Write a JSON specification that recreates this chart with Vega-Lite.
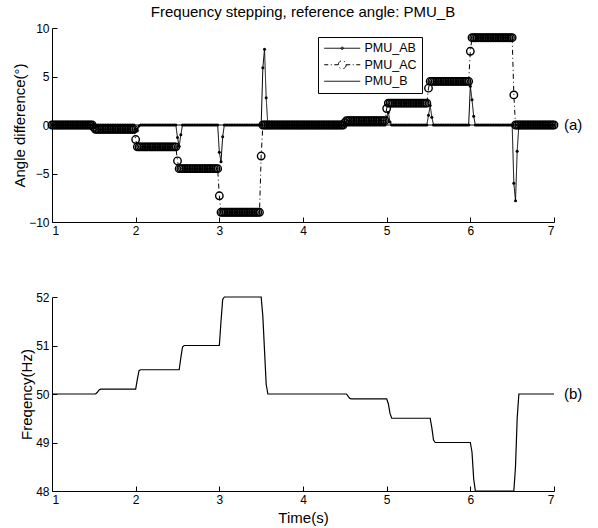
{
"$schema":"https://vega.github.io/schema/vega-lite/v6.json",
"background":"white",
"padding":{"left":12,"top":5,"right":5,"bottom":5},
"config":{
 "font":"Liberation Sans",
 "view":{"stroke":null},
 "axis":{"domainColor":"black","domainWidth":1,"tickColor":"black","tickWidth":1,"tickSize":-5,"labelColor":"black","labelFontSize":12,"titleColor":"black","titleFontSize":15,"titleFontWeight":"normal","grid":false,"labelFont":"Liberation Sans","titleFont":"Liberation Sans"},
 "axisX":{"labelPadding":8,"titlePadding":5},
 "axisY":{"labelPadding":8,"titlePadding":1},
 "title":{"fontSize":15,"fontWeight":"normal","color":"black","font":"Liberation Sans"},
 "concat":{"spacing":75}
},
"datasets":{"d":[
{"t":1,"ab":0,"ac":0,"f":50},{"t":1.02,"ab":0,"ac":0,"f":50},{"t":1.04,"ab":0,"ac":0,"f":50},{"t":1.06,"ab":0,"ac":0,"f":50},{"t":1.08,"ab":0,"ac":0,"f":50},
{"t":1.1,"ab":0,"ac":0,"f":50},{"t":1.12,"ab":0,"ac":0,"f":50},{"t":1.14,"ab":0,"ac":0,"f":50},{"t":1.16,"ab":0,"ac":0,"f":50},{"t":1.18,"ab":0,"ac":0,"f":50},
{"t":1.2,"ab":0,"ac":0,"f":50},{"t":1.22,"ab":0,"ac":0,"f":50},{"t":1.24,"ab":0,"ac":0,"f":50},{"t":1.26,"ab":0,"ac":0,"f":50},{"t":1.28,"ab":0,"ac":0,"f":50},
{"t":1.3,"ab":0,"ac":0,"f":50},{"t":1.32,"ab":0,"ac":0,"f":50},{"t":1.34,"ab":0,"ac":0,"f":50},{"t":1.36,"ab":0,"ac":0,"f":50},{"t":1.38,"ab":0,"ac":0,"f":50},
{"t":1.4,"ab":0,"ac":0,"f":50},{"t":1.42,"ab":0,"ac":0,"f":50},{"t":1.44,"ab":0,"ac":0,"f":50},{"t":1.46,"ab":0,"ac":0,"f":50},{"t":1.48,"ab":0,"ac":0,"f":50},
{"t":1.5,"ab":0,"ac":-0.25,"f":50},{"t":1.52,"ab":-0.2,"ac":-0.45,"f":50},{"t":1.54,"ab":0,"ac":-0.45,"f":50.03},{"t":1.56,"ab":0,"ac":-0.45,"f":50.08},
{"t":1.58,"ab":0,"ac":-0.45,"f":50.1},{"t":1.6,"ab":0,"ac":-0.45,"f":50.1},{"t":1.62,"ab":0,"ac":-0.45,"f":50.1},{"t":1.64,"ab":0,"ac":-0.45,"f":50.1},{"t":1.66,"ab":0,"ac":-0.45,"f":50.1},
{"t":1.68,"ab":0,"ac":-0.45,"f":50.1},{"t":1.7,"ab":0,"ac":-0.45,"f":50.1},{"t":1.72,"ab":0,"ac":-0.45,"f":50.1},{"t":1.74,"ab":0,"ac":-0.45,"f":50.1},{"t":1.76,"ab":0,"ac":-0.45,"f":50.1},
{"t":1.78,"ab":0,"ac":-0.45,"f":50.1},{"t":1.8,"ab":0,"ac":-0.45,"f":50.1},{"t":1.82,"ab":0,"ac":-0.45,"f":50.1},{"t":1.84,"ab":0,"ac":-0.45,"f":50.1},{"t":1.86,"ab":0,"ac":-0.45,"f":50.1},
{"t":1.88,"ab":0,"ac":-0.45,"f":50.1},{"t":1.9,"ab":0,"ac":-0.45,"f":50.1},{"t":1.92,"ab":0,"ac":-0.45,"f":50.1},{"t":1.94,"ab":0,"ac":-0.45,"f":50.1},{"t":1.96,"ab":0,"ac":-0.45,"f":50.1},
{"t":1.98,"ab":0,"ac":-0.45,"f":50.1},
{"t":2,"ab":-0.4,"ac":-1.5,"f":50.1},{"t":2.02,"ab":-0.6,"ac":-2.25,"f":50.3},{"t":2.04,"ab":-0.1,"ac":-2.25,"f":50.48},
{"t":2.06,"ab":0,"ac":-2.25,"f":50.5},{"t":2.08,"ab":0,"ac":-2.25,"f":50.5},{"t":2.1,"ab":0,"ac":-2.25,"f":50.5},{"t":2.12,"ab":0,"ac":-2.25,"f":50.5},{"t":2.14,"ab":0,"ac":-2.25,"f":50.5},
{"t":2.16,"ab":0,"ac":-2.25,"f":50.5},{"t":2.18,"ab":0,"ac":-2.25,"f":50.5},{"t":2.2,"ab":0,"ac":-2.25,"f":50.5},{"t":2.22,"ab":0,"ac":-2.25,"f":50.5},{"t":2.24,"ab":0,"ac":-2.25,"f":50.5},
{"t":2.26,"ab":0,"ac":-2.25,"f":50.5},{"t":2.28,"ab":0,"ac":-2.25,"f":50.5},{"t":2.3,"ab":0,"ac":-2.25,"f":50.5},{"t":2.32,"ab":0,"ac":-2.25,"f":50.5},{"t":2.34,"ab":0,"ac":-2.25,"f":50.5},
{"t":2.36,"ab":0,"ac":-2.25,"f":50.5},{"t":2.38,"ab":0,"ac":-2.25,"f":50.5},{"t":2.4,"ab":0,"ac":-2.25,"f":50.5},{"t":2.42,"ab":0,"ac":-2.25,"f":50.5},{"t":2.44,"ab":0,"ac":-2.25,"f":50.5},
{"t":2.46,"ab":0,"ac":-2.25,"f":50.5},{"t":2.48,"ab":0,"ac":-2.25,"f":50.5},
{"t":2.5,"ab":-1.3,"ac":-3.7,"f":50.5},{"t":2.52,"ab":-2.2,"ac":-4.5,"f":50.5},{"t":2.54,"ab":-1,"ac":-4.5,"f":50.75},{"t":2.56,"ab":0,"ac":-4.5,"f":50.97},
{"t":2.58,"ab":0,"ac":-4.5,"f":51},{"t":2.6,"ab":0,"ac":-4.5,"f":51},{"t":2.62,"ab":0,"ac":-4.5,"f":51},{"t":2.64,"ab":0,"ac":-4.5,"f":51},{"t":2.66,"ab":0,"ac":-4.5,"f":51},
{"t":2.68,"ab":0,"ac":-4.5,"f":51},{"t":2.7,"ab":0,"ac":-4.5,"f":51},{"t":2.72,"ab":0,"ac":-4.5,"f":51},{"t":2.74,"ab":0,"ac":-4.5,"f":51},{"t":2.76,"ab":0,"ac":-4.5,"f":51},
{"t":2.78,"ab":0,"ac":-4.5,"f":51},{"t":2.8,"ab":0,"ac":-4.5,"f":51},{"t":2.82,"ab":0,"ac":-4.5,"f":51},{"t":2.84,"ab":0,"ac":-4.5,"f":51},{"t":2.86,"ab":0,"ac":-4.5,"f":51},
{"t":2.88,"ab":0,"ac":-4.5,"f":51},{"t":2.9,"ab":0,"ac":-4.5,"f":51},{"t":2.92,"ab":0,"ac":-4.5,"f":51},{"t":2.94,"ab":0,"ac":-4.5,"f":51},{"t":2.96,"ab":0,"ac":-4.5,"f":51},
{"t":2.98,"ab":0,"ac":-4.5,"f":51},
{"t":3,"ab":-2.8,"ac":-7.3,"f":51},{"t":3.02,"ab":-3.8,"ac":-9,"f":51.5},{"t":3.04,"ab":-1.2,"ac":-9,"f":51.95},
{"t":3.06,"ab":0,"ac":-9,"f":52},{"t":3.08,"ab":0,"ac":-9,"f":52},{"t":3.1,"ab":0,"ac":-9,"f":52},{"t":3.12,"ab":0,"ac":-9,"f":52},{"t":3.14,"ab":0,"ac":-9,"f":52},
{"t":3.16,"ab":0,"ac":-9,"f":52},{"t":3.18,"ab":0,"ac":-9,"f":52},{"t":3.2,"ab":0,"ac":-9,"f":52},{"t":3.22,"ab":0,"ac":-9,"f":52},{"t":3.24,"ab":0,"ac":-9,"f":52},
{"t":3.26,"ab":0,"ac":-9,"f":52},{"t":3.28,"ab":0,"ac":-9,"f":52},{"t":3.3,"ab":0,"ac":-9,"f":52},{"t":3.32,"ab":0,"ac":-9,"f":52},{"t":3.34,"ab":0,"ac":-9,"f":52},
{"t":3.36,"ab":0,"ac":-9,"f":52},{"t":3.38,"ab":0,"ac":-9,"f":52},{"t":3.4,"ab":0,"ac":-9,"f":52},{"t":3.42,"ab":0,"ac":-9,"f":52},{"t":3.44,"ab":0,"ac":-9,"f":52},
{"t":3.46,"ab":0,"ac":-9,"f":52},{"t":3.48,"ab":0,"ac":-9,"f":52},
{"t":3.5,"ab":0,"ac":-3.2,"f":52},{"t":3.52,"ab":5.9,"ac":0,"f":51.6},{"t":3.54,"ab":7.8,"ac":0,"f":50.9},{"t":3.56,"ab":2.8,"ac":0,"f":50.2},
{"t":3.58,"ab":0,"ac":0,"f":50},{"t":3.6,"ab":0,"ac":0,"f":50},{"t":3.62,"ab":0,"ac":0,"f":50},{"t":3.64,"ab":0,"ac":0,"f":50},{"t":3.66,"ab":0,"ac":0,"f":50},
{"t":3.68,"ab":0,"ac":0,"f":50},{"t":3.7,"ab":0,"ac":0,"f":50},{"t":3.72,"ab":0,"ac":0,"f":50},{"t":3.74,"ab":0,"ac":0,"f":50},{"t":3.76,"ab":0,"ac":0,"f":50},
{"t":3.78,"ab":0,"ac":0,"f":50},{"t":3.8,"ab":0,"ac":0,"f":50},{"t":3.82,"ab":0,"ac":0,"f":50},{"t":3.84,"ab":0,"ac":0,"f":50},{"t":3.86,"ab":0,"ac":0,"f":50},
{"t":3.88,"ab":0,"ac":0,"f":50},{"t":3.9,"ab":0,"ac":0,"f":50},{"t":3.92,"ab":0,"ac":0,"f":50},{"t":3.94,"ab":0,"ac":0,"f":50},{"t":3.96,"ab":0,"ac":0,"f":50},
{"t":3.98,"ab":0,"ac":0,"f":50},{"t":4,"ab":0,"ac":0,"f":50},{"t":4.02,"ab":0,"ac":0,"f":50},{"t":4.04,"ab":0,"ac":0,"f":50},{"t":4.06,"ab":0,"ac":0,"f":50},
{"t":4.08,"ab":0,"ac":0,"f":50},{"t":4.1,"ab":0,"ac":0,"f":50},{"t":4.12,"ab":0,"ac":0,"f":50},{"t":4.14,"ab":0,"ac":0,"f":50},{"t":4.16,"ab":0,"ac":0,"f":50},
{"t":4.18,"ab":0,"ac":0,"f":50},{"t":4.2,"ab":0,"ac":0,"f":50},{"t":4.22,"ab":0,"ac":0,"f":50},{"t":4.24,"ab":0,"ac":0,"f":50},{"t":4.26,"ab":0,"ac":0,"f":50},
{"t":4.28,"ab":0,"ac":0,"f":50},{"t":4.3,"ab":0,"ac":0,"f":50},{"t":4.32,"ab":0,"ac":0,"f":50},{"t":4.34,"ab":0,"ac":0,"f":50},{"t":4.36,"ab":0,"ac":0,"f":50},
{"t":4.38,"ab":0,"ac":0,"f":50},{"t":4.4,"ab":0,"ac":0,"f":50},{"t":4.42,"ab":0,"ac":0,"f":50},{"t":4.44,"ab":0,"ac":0,"f":50},{"t":4.46,"ab":0,"ac":0,"f":50},
{"t":4.48,"ab":0,"ac":0,"f":50},
{"t":4.5,"ab":0.2,"ac":0.25,"f":50},{"t":4.52,"ab":0.1,"ac":0.45,"f":50},{"t":4.54,"ab":0,"ac":0.45,"f":49.95},{"t":4.56,"ab":0,"ac":0.45,"f":49.91},
{"t":4.58,"ab":0,"ac":0.45,"f":49.9},{"t":4.6,"ab":0,"ac":0.45,"f":49.9},{"t":4.62,"ab":0,"ac":0.45,"f":49.9},{"t":4.64,"ab":0,"ac":0.45,"f":49.9},{"t":4.66,"ab":0,"ac":0.45,"f":49.9},
{"t":4.68,"ab":0,"ac":0.45,"f":49.9},{"t":4.7,"ab":0,"ac":0.45,"f":49.9},{"t":4.72,"ab":0,"ac":0.45,"f":49.9},{"t":4.74,"ab":0,"ac":0.45,"f":49.9},{"t":4.76,"ab":0,"ac":0.45,"f":49.9},
{"t":4.78,"ab":0,"ac":0.45,"f":49.9},{"t":4.8,"ab":0,"ac":0.45,"f":49.9},{"t":4.82,"ab":0,"ac":0.45,"f":49.9},{"t":4.84,"ab":0,"ac":0.45,"f":49.9},{"t":4.86,"ab":0,"ac":0.45,"f":49.9},
{"t":4.88,"ab":0,"ac":0.45,"f":49.9},{"t":4.9,"ab":0,"ac":0.45,"f":49.9},{"t":4.92,"ab":0,"ac":0.45,"f":49.9},{"t":4.94,"ab":0,"ac":0.45,"f":49.9},{"t":4.96,"ab":0,"ac":0.45,"f":49.9},
{"t":4.98,"ab":0,"ac":0.45,"f":49.9},
{"t":5,"ab":0.8,"ac":1.7,"f":49.9},{"t":5.02,"ab":1.3,"ac":2.25,"f":49.8},{"t":5.04,"ab":0.3,"ac":2.25,"f":49.6},
{"t":5.06,"ab":0,"ac":2.25,"f":49.5},{"t":5.08,"ab":0,"ac":2.25,"f":49.5},{"t":5.1,"ab":0,"ac":2.25,"f":49.5},{"t":5.12,"ab":0,"ac":2.25,"f":49.5},{"t":5.14,"ab":0,"ac":2.25,"f":49.5},
{"t":5.16,"ab":0,"ac":2.25,"f":49.5},{"t":5.18,"ab":0,"ac":2.25,"f":49.5},{"t":5.2,"ab":0,"ac":2.25,"f":49.5},{"t":5.22,"ab":0,"ac":2.25,"f":49.5},{"t":5.24,"ab":0,"ac":2.25,"f":49.5},
{"t":5.26,"ab":0,"ac":2.25,"f":49.5},{"t":5.28,"ab":0,"ac":2.25,"f":49.5},{"t":5.3,"ab":0,"ac":2.25,"f":49.5},{"t":5.32,"ab":0,"ac":2.25,"f":49.5},{"t":5.34,"ab":0,"ac":2.25,"f":49.5},
{"t":5.36,"ab":0,"ac":2.25,"f":49.5},{"t":5.38,"ab":0,"ac":2.25,"f":49.5},{"t":5.4,"ab":0,"ac":2.25,"f":49.5},{"t":5.42,"ab":0,"ac":2.25,"f":49.5},{"t":5.44,"ab":0,"ac":2.25,"f":49.5},
{"t":5.46,"ab":0,"ac":2.25,"f":49.5},{"t":5.48,"ab":0,"ac":2.25,"f":49.5},
{"t":5.5,"ab":1,"ac":3.8,"f":49.5},{"t":5.52,"ab":2,"ac":4.5,"f":49.5},{"t":5.54,"ab":0.8,"ac":4.5,"f":49.3},{"t":5.56,"ab":0,"ac":4.5,"f":49.05},
{"t":5.58,"ab":0,"ac":4.5,"f":49},{"t":5.6,"ab":0,"ac":4.5,"f":49},{"t":5.62,"ab":0,"ac":4.5,"f":49},{"t":5.64,"ab":0,"ac":4.5,"f":49},{"t":5.66,"ab":0,"ac":4.5,"f":49},
{"t":5.68,"ab":0,"ac":4.5,"f":49},{"t":5.7,"ab":0,"ac":4.5,"f":49},{"t":5.72,"ab":0,"ac":4.5,"f":49},{"t":5.74,"ab":0,"ac":4.5,"f":49},{"t":5.76,"ab":0,"ac":4.5,"f":49},
{"t":5.78,"ab":0,"ac":4.5,"f":49},{"t":5.8,"ab":0,"ac":4.5,"f":49},{"t":5.82,"ab":0,"ac":4.5,"f":49},{"t":5.84,"ab":0,"ac":4.5,"f":49},{"t":5.86,"ab":0,"ac":4.5,"f":49},
{"t":5.88,"ab":0,"ac":4.5,"f":49},{"t":5.9,"ab":0,"ac":4.5,"f":49},{"t":5.92,"ab":0,"ac":4.5,"f":49},{"t":5.94,"ab":0,"ac":4.5,"f":49},{"t":5.96,"ab":0,"ac":4.5,"f":49},
{"t":5.98,"ab":0,"ac":4.5,"f":49},
{"t":6,"ab":4,"ac":7.6,"f":49},{"t":6.02,"ab":2.6,"ac":9,"f":48.8},{"t":6.04,"ab":0.9,"ac":9,"f":48.25},
{"t":6.06,"ab":0,"ac":9,"f":48},{"t":6.08,"ab":0,"ac":9,"f":48},{"t":6.1,"ab":0,"ac":9,"f":48},{"t":6.12,"ab":0,"ac":9,"f":48},{"t":6.14,"ab":0,"ac":9,"f":48},
{"t":6.16,"ab":0,"ac":9,"f":48},{"t":6.18,"ab":0,"ac":9,"f":48},{"t":6.2,"ab":0,"ac":9,"f":48},{"t":6.22,"ab":0,"ac":9,"f":48},{"t":6.24,"ab":0,"ac":9,"f":48},
{"t":6.26,"ab":0,"ac":9,"f":48},{"t":6.28,"ab":0,"ac":9,"f":48},{"t":6.3,"ab":0,"ac":9,"f":48},{"t":6.32,"ab":0,"ac":9,"f":48},{"t":6.34,"ab":0,"ac":9,"f":48},
{"t":6.36,"ab":0,"ac":9,"f":48},{"t":6.38,"ab":0,"ac":9,"f":48},{"t":6.4,"ab":0,"ac":9,"f":48},{"t":6.42,"ab":0,"ac":9,"f":48},{"t":6.44,"ab":0,"ac":9,"f":48},
{"t":6.46,"ab":0,"ac":9,"f":48},{"t":6.48,"ab":0,"ac":9,"f":48},{"t":6.5,"ab":0,"ac":9,"f":48},
{"t":6.52,"ab":-6,"ac":3.1,"f":48},{"t":6.54,"ab":-7.8,"ac":0,"f":48.5},{"t":6.56,"ab":-2.7,"ac":0,"f":49.5},
{"t":6.58,"ab":0,"ac":0,"f":50},{"t":6.6,"ab":0,"ac":0,"f":50},{"t":6.62,"ab":0,"ac":0,"f":50},{"t":6.64,"ab":0,"ac":0,"f":50},{"t":6.66,"ab":0,"ac":0,"f":50},
{"t":6.68,"ab":0,"ac":0,"f":50},{"t":6.7,"ab":0,"ac":0,"f":50},{"t":6.72,"ab":0,"ac":0,"f":50},{"t":6.74,"ab":0,"ac":0,"f":50},{"t":6.76,"ab":0,"ac":0,"f":50},
{"t":6.78,"ab":0,"ac":0,"f":50},{"t":6.8,"ab":0,"ac":0,"f":50},{"t":6.82,"ab":0,"ac":0,"f":50},{"t":6.84,"ab":0,"ac":0,"f":50},{"t":6.86,"ab":0,"ac":0,"f":50},
{"t":6.88,"ab":0,"ac":0,"f":50},{"t":6.9,"ab":0,"ac":0,"f":50},{"t":6.92,"ab":0,"ac":0,"f":50},{"t":6.94,"ab":0,"ac":0,"f":50},{"t":6.96,"ab":0,"ac":0,"f":50},
{"t":6.98,"ab":0,"ac":0,"f":50},{"t":7,"ab":0,"ac":0,"f":50}
]},
"bounds":"flush",
"vconcat":[
{
 "width":502,"height":194,
 "title":{"text":"Frequency stepping, reference angle: PMU_B","frame":"group","anchor":"middle","offset":2},
 "data":{"name":"d"},
 "encoding":{"x":{"field":"t","type":"quantitative","scale":{"domain":[1,7],"nice":false},"axis":{"title":null,"values":[1,2,3,4,5,6,7]}}},
 "layer":[
  {"transform":[{"fold":["ab","ac"],"as":["s","v"]}],
   "mark":{"type":"line","strokeWidth":1},
   "encoding":{
    "y":{"field":"v","type":"quantitative","title":"Angle difference(°)","scale":{"domain":[-10,10],"nice":false},"axis":{"values":[-10,-5,0,5,10]}},
    "color":{"field":"s","type":"nominal","scale":{"domain":["ab","ac","b"],"range":["black","black","black"]},
     "legend":{"orient":"none","legendX":266,"legendY":9,"title":null,
      "labelExpr":"datum.value=='ab'?'PMU_AB':datum.value=='ac'?'PMU_AC':'PMU_B'",
      "labelFontSize":12.5,"labelColor":"black","strokeColor":"black","fillColor":"white","padding":5,
      "symbolSize":64,"symbolStrokeWidth":1,"symbolOffset":0,"labelOffset":29,"rowPadding":3.5,
      "encode":{"symbols":{"update":{
        "shape":{"signal":"datum.value=='ab'?'M-1.25,0H7.75M3.55,0A0.3,0.3 0 1,1 2.95,0A0.3,0.3 0 1,1 3.55,0Z':datum.value=='ac'?'M-1.25,0H-0.25M0.375,0H0.625M1.25,0H2.25M4.25,0H5.25M5.875,0H6.125M6.75,0H7.75M4.25,0A1,1 0 1,1 2.25,0A1,1 0 1,1 4.25,0Z':'M-1.25,0H7.75'"},
        "fill":{"value":"transparent"},"stroke":{"value":"black"},"strokeWidth":{"value":1}}}}}},
    "strokeDash":{"field":"s","type":"nominal","scale":{"domain":["ab","ac","b"],"range":[[1,0],[5,3,1,3],[1,0]]},"legend":null}
   }},
  {"mark":{"type":"point","filled":true,"color":"black","size":9,"opacity":1},
   "encoding":{"y":{"field":"ab","type":"quantitative","title":"Angle difference(°)"}}},
  {"mark":{"type":"point","filled":false,"color":"black","size":56,"strokeWidth":1.4,"opacity":1},
   "encoding":{"y":{"field":"ac","type":"quantitative","title":"Angle difference(°)"}}},
  {"data":{"values":[{"t":1,"v":0},{"t":7,"v":0}]},
   "mark":{"type":"line","color":"black","strokeWidth":1},
   "encoding":{"y":{"field":"v","type":"quantitative","title":"Angle difference(°)"}}},
  {"data":{"values":[{"t":7,"v":0,"lab":"(a)"}]},
   "mark":{"type":"text","align":"left","baseline":"middle","dx":10,"fontSize":15,"color":"black"},
   "encoding":{"y":{"field":"v","type":"quantitative","title":"Angle difference(°)"},"text":{"field":"lab"}}}
 ]
},
{
 "width":502,"height":194,
 "data":{"name":"d"},
 "encoding":{"x":{"field":"t","type":"quantitative","scale":{"domain":[1,7],"nice":false},"axis":{"title":"Time(s)","values":[1,2,3,4,5,6,7]}}},
 "layer":[
  {"mark":{"type":"line","color":"black","strokeWidth":1.2},
   "encoding":{"y":{"field":"f","type":"quantitative","title":"Freqency(Hz)","scale":{"domain":[48,52],"nice":false},"axis":{"values":[48,49,50,51,52]}}}},
  {"data":{"values":[{"t":7,"f":50,"lab":"(b)"}]},
   "mark":{"type":"text","align":"left","baseline":"middle","dx":10,"fontSize":15,"color":"black"},
   "encoding":{"y":{"field":"f","type":"quantitative","title":"Freqency(Hz)"},"text":{"field":"lab"}}}
 ]
}
]
}
